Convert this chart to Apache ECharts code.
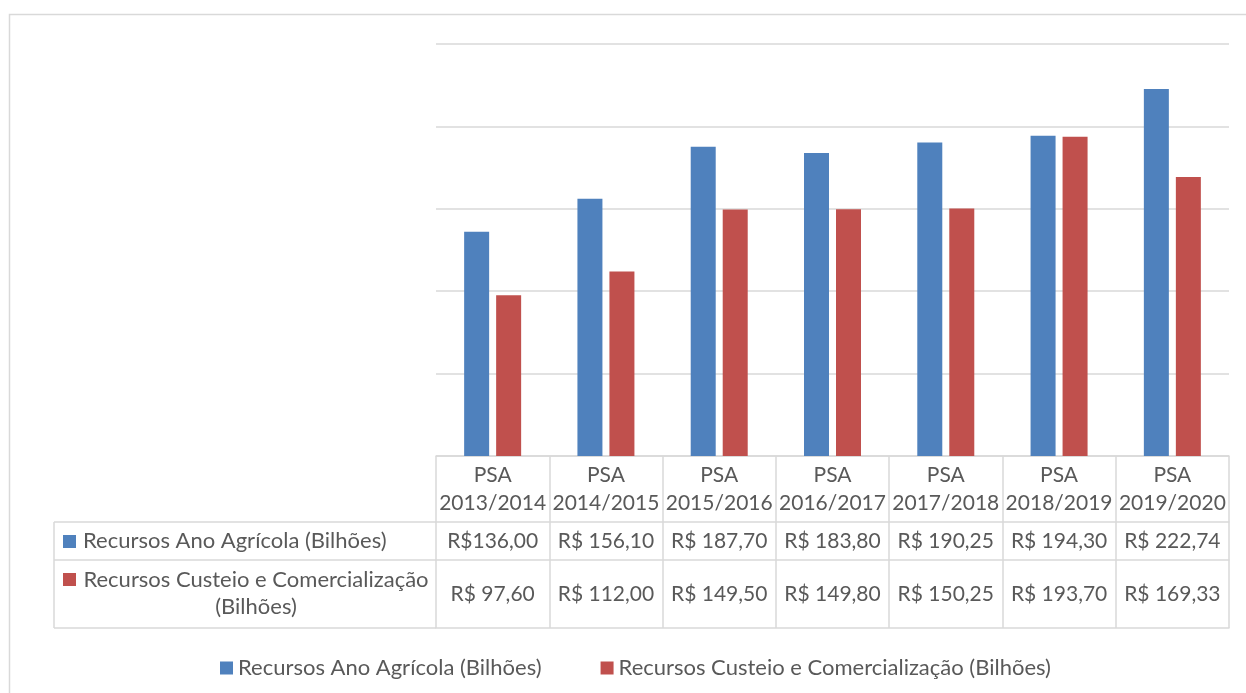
<!DOCTYPE html>
<html>
<head>
<meta charset="utf-8">
<script src="https://cdn.jsdelivr.net/npm/echarts@6/dist/echarts.min.js"></script>
<style>
html,body{margin:0;padding:0;background:#fff;}
#chart{width:1246px;height:693px;}
</style>
</head>
<body>
<div id="chart"></div>
<script>
const categories = ["PSA\n2013/2014","PSA\n2014/2015","PSA\n2015/2016","PSA\n2016/2017","PSA\n2017/2018","PSA\n2018/2019","PSA\n2019/2020"];
const seriesNames = ["Recursos Ano Agrícola (Bilhões)", "Recursos Custeio e Comercialização (Bilhões)"];
const anoAgricola = [136.00, 156.10, 187.70, 183.80, 190.25, 194.30, 222.74];
const custeioComercializacao = [97.60, 112.00, 149.50, 149.80, 150.25, 193.70, 169.33];
const anoAgricolaLabels = ["R$136,00","R$ 156,10","R$ 187,70","R$ 183,80","R$ 190,25","R$ 194,30","R$ 222,74"];
const custeioLabels = ["R$ 97,60","R$ 112,00","R$ 149,50","R$ 149,80","R$ 150,25","R$ 193,70","R$ 169,33"];
const yTicks = [0, 50, 100, 150, 200, 250];

const FONT = "Lato";
const TXT = "#595959";
const GRID = "#d9d9d9";
const BLUE = "#4f81bd";
const RED = "#c0504d";
const TABLE_FS = 21;
const LABEL_FS = 22;

const chart = echarts.init(document.getElementById('chart'), null, {renderer:'canvas'});

function tableAxis(offset, labels, margin, showLine) {
  return {
    type: 'category',
    data: labels,
    position: 'bottom',
    offset: offset,
    gridIndex: 0,
    axisLine: {show: showLine, lineStyle: {color: GRID, width: 1.5}},
    axisTick: {show: false},
    axisLabel: {show: true, interval: 0, margin: margin, color: TXT, fontFamily: FONT, fontSize: TABLE_FS, lineHeight: 24}
  };
}

const option = {
  backgroundColor: '#fff',
  animation: false,
  grid: {left: 436, right: 17, top: 44, bottom: 237, containLabel: false},
  legend: {
    data: seriesNames,
    left: 215,
    top: 652,
    icon: 'rect',
    itemWidth: 13,
    itemHeight: 13,
    itemGap: 59,
    textStyle: {color: TXT, fontFamily: FONT, fontSize: LABEL_FS}
  },
  xAxis: [
    {
      type: 'category',
      data: categories,
      position: 'bottom',
      axisLine: {show: true, lineStyle: {color: GRID, width: 1.5}},
      axisTick: {show: true, length: 172, interval: 0, lineStyle: {color: GRID, width: 1.5}},
      axisLabel: {interval: 0, margin: 5, color: TXT, fontFamily: FONT, fontSize: TABLE_FS, lineHeight: 28}
    },
    tableAxis(66, anoAgricolaLabels, 7, true),
    tableAxis(104, custeioLabels, 22, true),
    Object.assign(tableAxis(172, categories, 8, true), {axisLabel: {show: false}})
  ],
  yAxis: {
    type: 'value',
    min: yTicks[0],
    max: yTicks[yTicks.length - 1],
    interval: yTicks[1] - yTicks[0],
    axisLine: {show: false},
    axisTick: {show: false},
    axisLabel: {show: false},
    splitLine: {show: true, lineStyle: {color: GRID, width: 1.5}}
  },
  series: [
    {name: seriesNames[0], type: 'bar', data: anoAgricola, barWidth: 25, barGap: '28%', itemStyle: {color: BLUE}},
    {name: seriesNames[1], type: 'bar', data: custeioComercializacao, barWidth: 25, barGap: '28%', itemStyle: {color: RED}}
  ],
  graphic: [
    {type: 'rect', silent: true, shape: {x: 9.5, y: 14.5, width: 1400, height: 900}, style: {fill: 'none', stroke: GRID, lineWidth: 1.5}},
    {type: 'line', silent: true, shape: {x1: 54, y1: 522, x2: 436, y2: 522}, style: {stroke: GRID, lineWidth: 1.5}},
    {type: 'line', silent: true, shape: {x1: 54, y1: 560, x2: 436, y2: 560}, style: {stroke: GRID, lineWidth: 1.5}},
    {type: 'line', silent: true, shape: {x1: 54, y1: 628, x2: 436, y2: 628}, style: {stroke: GRID, lineWidth: 1.5}},
    {type: 'line', silent: true, shape: {x1: 54, y1: 522, x2: 54, y2: 628}, style: {stroke: GRID, lineWidth: 1.5}},
    {type: 'rect', silent: true, shape: {x: 63, y: 535, width: 13, height: 13}, style: {fill: BLUE}},
    {type: 'text', silent: true, style: {x: 83, y: 541, text: seriesNames[0], fill: TXT, font: LABEL_FS + 'px ' + FONT, verticalAlign: 'middle', align: 'left'}},
    {type: 'rect', silent: true, shape: {x: 63, y: 573, width: 13, height: 13}, style: {fill: RED}},
    {type: 'text', silent: true, style: {x: 256, y: 593, text: "Recursos Custeio e Comercialização\n(Bilhões)", fill: TXT, font: LABEL_FS + 'px ' + FONT, verticalAlign: 'middle', align: 'center', lineHeight: 27}}
  ]
};
chart.setOption(option);
</script>
</body>
</html>
